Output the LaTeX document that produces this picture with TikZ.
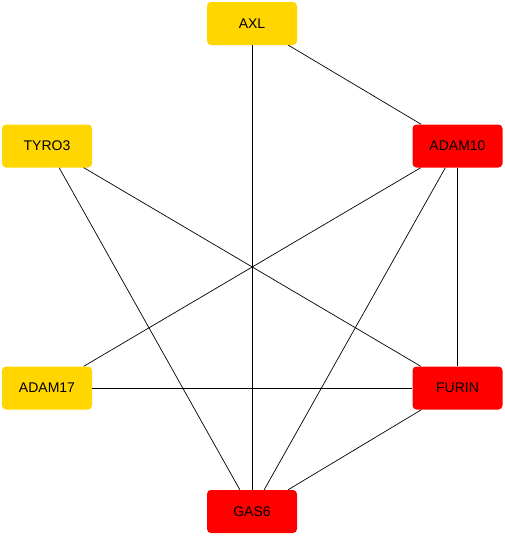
\documentclass[tikz,border=0pt]{standalone}
\usepackage{fontspec}
\setmainfont{Liberation Sans}
\usepackage{tikz}
\usetikzlibrary{positioning}

\definecolor{goldfill}{RGB}{255,214,0}
\definecolor{redfill}{RGB}{255,0,0}

\begin{document}
\begin{tikzpicture}[
  x=1pt, y=-1pt,
  gene/.style={rounded corners=4pt, align=center, font=\fontsize{14}{16}\selectfont,
               minimum width=90pt, minimum height=43pt, inner sep=0pt},
  low/.style={gene, fill=goldfill},
  high/.style={gene, fill=redfill},
  link/.style={draw=black, line width=0.7pt}
]
\useasboundingbox (0,0) rectangle (505,536);

\node[low]  (axl)    at (252,23.5)  {AXL};
\node[low]  (tyro3)  at (47,146)    {TYRO3};
\node[high] (adam10) at (457.5,146) {ADAM10};
\node[low]  (adam17) at (47,388)    {ADAM17};
\node[high] (furin)  at (457.5,388) {FURIN};
\node[high] (gas6)   at (252,511.5) {GAS6};

\foreach \a/\b in {axl/adam10, axl/gas6, tyro3/furin, tyro3/gas6,
                   adam10/adam17, adam10/gas6, adam10/furin,
                   adam17/furin, furin/gas6}
  \draw[link] (\a) -- (\b);
\end{tikzpicture}
\end{document}
